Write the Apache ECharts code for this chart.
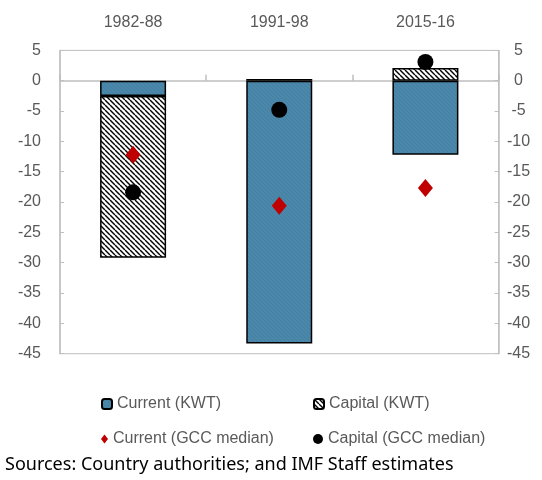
<!DOCTYPE html>
<html>
<head>
<meta charset="utf-8">
<script src="https://cdn.jsdelivr.net/npm/echarts@6/dist/echarts.min.js"></script>
<style>
  html, body { margin: 0; padding: 0; background: #fff; }
  #chart { width: 542px; height: 480px; }
</style>
</head>
<body>
<div id="chart"></div>
<script>
// periods
const periods = ['1982-88', '1991-98', '2015-16'];
// Kuwait balances (stacked bars)
const currentKwt = [-2.5, -43.3, -12.2];
const capitalKwt = [-26.7, 0.3, 2.1];
// GCC medians (markers)
const currentGcc = [-12.2, -20.6, -17.7];
const capitalGcc = [-18.4, -4.8, 3.1];

const FONT = 'Liberation Sans';
const GREY = '#595959';
const AXIS = '#bfbfbf';

// diagonal hatch tile, lines running top-left to bottom-right
function hatch(bg, fg, step, lw) {
  const c = document.createElement('canvas');
  c.width = c.height = step;
  const ctx = c.getContext('2d');
  ctx.fillStyle = bg;
  ctx.fillRect(0, 0, step, step);
  ctx.strokeStyle = fg;
  ctx.lineWidth = lw;
  [-step, 0, step].forEach((k) => {
    ctx.beginPath();
    ctx.moveTo(k, 0);
    ctx.lineTo(k + step, step);
    ctx.stroke();
  });
  return c;
}

const bluePattern = { image: hatch('#4a87ab', '#44809f', 4, 1), repeat: 'repeat' };
const blackPattern = { image: hatch('#ffffff', '#000000', 5, 1.4), repeat: 'repeat' };

const chart = echarts.init(document.getElementById('chart'), null, { renderer: 'canvas' });

function legendAt(name, left, top, w, h) {
  return {
    data: [name],
    left: left,
    top: top,
    itemWidth: w,
    itemHeight: h,
    selectedMode: false,
    textStyle: { fontFamily: FONT, fontSize: 16, color: GREY },
  };
}

chart.setOption({
  animation: false,
  grid: {
    left: 60,
    right: 43.5,
    top: 50.4,
    bottom: 126.3,
    show: true,
    borderColor: AXIS,
    borderWidth: 1,
  },
  legend: [
    legendAt('Current (KWT)', 96, 391, 10, 10),
    legendAt('Capital (KWT)', 308, 391, 10, 10),
    legendAt('Current (GCC median)', 96, 426, 7, 9),
    legendAt('Capital (GCC median)', 308, 426, 10, 10),
  ],
  xAxis: [
    {
      type: 'category',
      position: 'top',
      data: periods,
      axisLine: { show: false, onZero: false },
      axisTick: { show: false },
      axisLabel: { margin: 20, fontFamily: FONT, fontSize: 16, color: GREY },
    },
    {
      // zero line with the separator ticks
      type: 'category',
      position: 'bottom',
      data: periods,
      axisLine: { show: true, onZero: true, lineStyle: { color: AXIS, width: 1.5 } },
      axisTick: { show: true, inside: true, length: 6, lineStyle: { color: AXIS, width: 1.5 } },
      axisLabel: { show: false },
    },
  ],
  yAxis: [
    {
      type: 'value',
      min: -45,
      max: 5,
      interval: 5,
      position: 'left',
      splitLine: { show: false },
      axisLine: { show: true, lineStyle: { color: AXIS, width: 1.5 } },
      axisTick: { show: true, inside: true, length: 4, lineStyle: { color: AXIS } },
      axisLabel: { margin: 19, fontFamily: FONT, fontSize: 16, color: GREY },
    },
    {
      type: 'value',
      min: -45,
      max: 5,
      interval: 5,
      position: 'right',
      splitLine: { show: false },
      axisLine: { show: true, lineStyle: { color: AXIS, width: 1.5 } },
      axisTick: { show: true, inside: true, length: 4, lineStyle: { color: AXIS } },
      axisLabel: { margin: 20, align: 'center', fontFamily: FONT, fontSize: 16, color: GREY },
    },
  ],
  series: [
    {
      name: 'Current (KWT)',
      type: 'bar',
      stack: 'kwt',
      barWidth: 66,
      data: currentKwt,
      itemStyle: { color: bluePattern, borderColor: '#000', borderWidth: 1.5 },
    },
    {
      name: 'Capital (KWT)',
      type: 'bar',
      stack: 'kwt',
      barWidth: 66,
      data: capitalKwt,
      itemStyle: { color: blackPattern, borderColor: '#000', borderWidth: 1.5 },
    },
    {
      name: 'Current (GCC median)',
      type: 'scatter',
      symbol: 'diamond',
      symbolSize: [15, 18],
      data: currentGcc,
      itemStyle: { color: '#c00000', opacity: 1 },
      z: 5,
    },
    {
      name: 'Capital (GCC median)',
      type: 'scatter',
      symbol: 'circle',
      symbolSize: 16,
      data: capitalGcc,
      itemStyle: { color: '#000', opacity: 1 },
      z: 5,
    },
  ],
  graphic: [
    {
      type: 'text',
      left: 5,
      top: 456,
      style: {
        text: 'Sources: Country authorities; and IMF Staff estimates',
        fontFamily: 'Noto Sans',
        fontSize: 18,
        fill: '#000',
      },
    },
  ],
});
</script>
</body>
</html>
